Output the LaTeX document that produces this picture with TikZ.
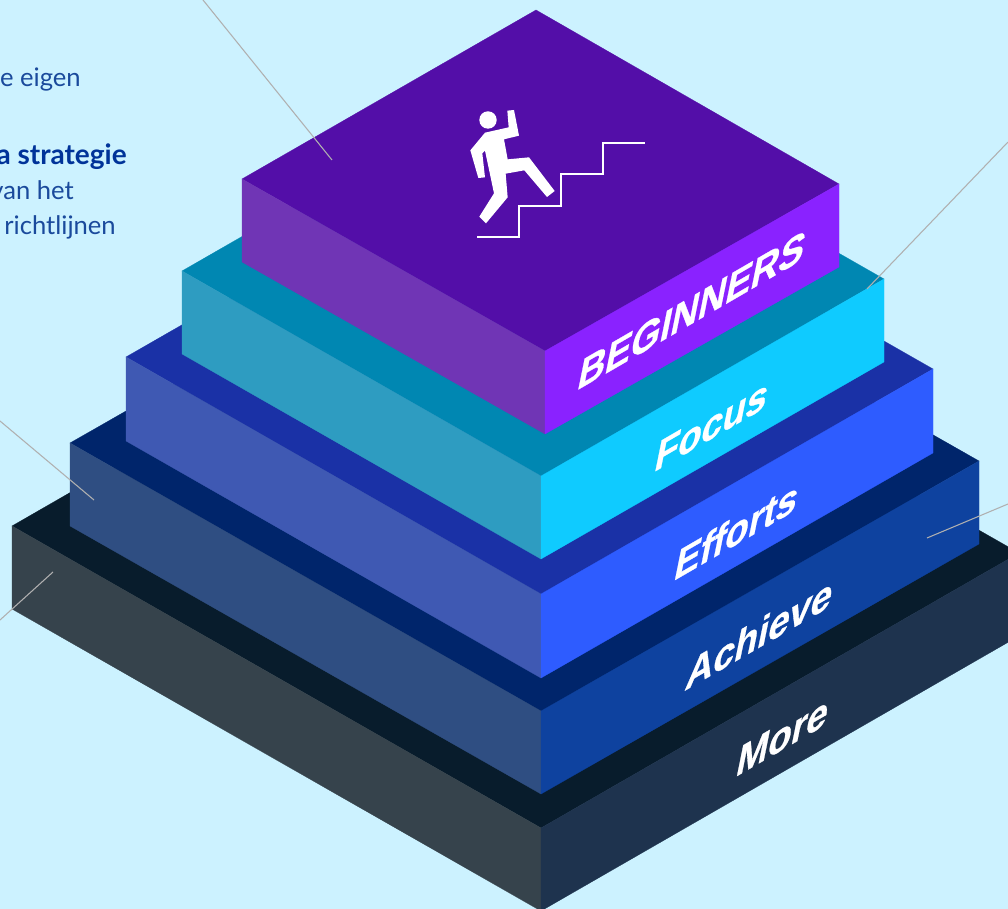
\documentclass[tikz,border=0pt]{standalone}
\usepackage{fontspec}
\setmainfont{Lato}
\newfontfamily\labelfont[BoldFeatures={FakeBold=0.7}]{Liberation Sans}
\definecolor{bgc}{HTML}{CCF2FF}
\definecolor{aT}{HTML}{530EA8}\definecolor{aL}{HTML}{7035B5}\definecolor{aR}{HTML}{8A22FF}
\definecolor{bT}{HTML}{0087B2}\definecolor{bL}{HTML}{2E9CC1}\definecolor{bR}{HTML}{0FCBFF}
\definecolor{cT}{HTML}{1A31A6}\definecolor{cL}{HTML}{3F59B3}\definecolor{cR}{HTML}{2E5CFF}
\definecolor{dT}{HTML}{00256B}\definecolor{dL}{HTML}{2F4E82}\definecolor{dR}{HTML}{0E429F}
\definecolor{eT}{HTML}{081C2C}\definecolor{eL}{HTML}{36434C}\definecolor{eR}{HTML}{1E334E}
\definecolor{txtc}{HTML}{1A4A9C}
\definecolor{txtb}{HTML}{003399}
\definecolor{leader}{HTML}{B0B0B0}
\tikzset{
  facelabel/.style={font=\labelfont\bfseries\fontsize{28.5pt}{30pt}\selectfont,text=white,draw=none,inner sep=0pt,cm={1,0.58,0.24,1.18,(0,0)}},
  sidetext/.style={anchor=base east,inner sep=0pt,text=txtc,font=\fontsize{19.2pt}{22pt}\selectfont},
  sidebold/.style={sidetext,text=txtb,font=\bfseries\fontsize{21pt}{24pt}\selectfont},
  leaderline/.style={draw=leader,line width=0.8pt},
}
\usetikzlibrary{calc}
\newcommand{\slab}[8]{%
  \path[fill=#6,draw=#6,line width=0.2pt] (#1) -- (#2) -- (#3) -- (#4) -- cycle;
  \path[fill=#7,draw=#7,line width=0.2pt] (#1) -- (#2) -- ++(0,#5) -- ($(#1)+(0,#5)$) -- cycle;
  \path[fill=#8,draw=#8,line width=0.2pt] (#2) -- (#3) -- ++(0,#5) -- ($(#2)+(0,#5)$) -- cycle;
}
\begin{document}
\begin{tikzpicture}[x=0.75pt,y=-0.75pt]
\useasboundingbox (0,0) rectangle (1008,909);
\clip (0,0) rectangle (1008,909);
\fill[bgc] (0,0) rectangle (1008,909);
% side text
\node[sidetext] (t1) at (81,87) {e eigen};
\node[sidebold] (t2) at (127,165) {a strategie};
\node[sidetext] (t3) at (74,200) {van het};
\node[sidetext] (t4) at (116,235) {richtlijnen};
% leader lines start
\coordinate (lineDa) at (0,421); \coordinate (lineDb) at (94,500);
\coordinate (lineEa) at (0,620); \coordinate (lineEb) at (53,572);
% slabs
\slab{12,526}{541,828}{1019,553}{490,251}{83}{eT}{eL}{eR}
\slab{70,443}{541,711}{979,461}{508,193}{83}{dT}{dL}{dR}
\slab{126,357}{541,594}{933,369}{518,132}{84}{cT}{cL}{cR}
\slab{182,271}{541,476}{884,279}{525,74}{83}{bT}{bL}{bR}
\slab{242,179}{545,351}{839,184}{536,10}{83}{aT}{aL}{aR}
% leader lines
\coordinate (lineAa) at (203,0); \coordinate (lineAb) at (332,160);
\coordinate (lineBa) at (1008,142); \coordinate (lineBb) at (867,289);
\coordinate (lineCa) at (1008,504); \coordinate (lineCb) at (927,538);
\draw[leaderline] (lineAa) -- (lineAb);
\draw[leaderline] (lineBa) -- (lineBb);
\draw[leaderline] (lineCa) -- (lineCb);
\draw[leaderline] (lineDa) -- (lineDb);
\draw[leaderline] (lineEa) -- (lineEb);
% labels
\node[facelabel] (l1) at (692,310) {BEGINNERS};
\node[facelabel] (l2) at (712,425) {Focus};
\node[facelabel] (l3) at (737,530) {Efforts};
\node[facelabel] (l4) at (760,633) {Achieve};
\node[facelabel] (l5) at (783,736) {More};
% icon
\fill[white] (488,120) circle[radius=8.7];
\begin{scope}[shift={(430,90)},x=0.25pt,y=-0.25pt]
\fill[white] (232,62) -- (252,60) -- (267,137) -- (222,148) -- (233,208) -- (297,202) -- (374,303) -- (351,321) -- (283,241) -- (227,251) -- (233,322) -- (168,400) -- (148,380) -- (192,310) -- (165,182) -- (157,190) -- (165,262) -- (145,264) -- (121,181) -- (165,128) -- (236,112) -- cycle;
\draw[white,line width=1.5pt] (142,441) -- (268,441) -- (268,349) -- (393,349) -- (393,252) -- (519,252) -- (519,160) -- (645,160);
\end{scope}
\end{tikzpicture}
\end{document}
